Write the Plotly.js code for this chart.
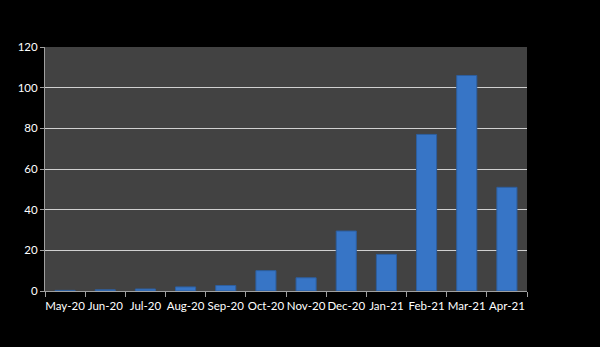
<!DOCTYPE html>
<html><head><meta charset="utf-8">
<script src="https://cdn.plot.ly/plotly-3.0.1.min.js"></script>
<style>body{margin:0;background:#000}</style>
</head><body><div id="c" style="width:600px;height:347px"></div>
<script>
const months = ["May-20","Jun-20","Jul-20","Aug-20","Sep-20","Oct-20","Nov-20","Dec-20","Jan-21","Feb-21","Mar-21","Apr-21"];
const counts = [0.3,0.6,1,2,2.7,10,6.5,29.5,18,77,106,51];
const yTicks = [0,20,40,60,80,100,120];

Plotly.newPlot("c", [{
  type: "bar",
  x: months,
  y: counts,
  marker: {color: "#3775c6", line: {color: "#2d5e9e", width: 1}},
  hoverinfo: "x+y"
}], {
  width: 600, height: 347,
  paper_bgcolor: "#000000",
  plot_bgcolor: "#424242",
  margin: {l: 45, r: 73, t: 47, b: 56},
  bargap: 0.5,
  showlegend: false,
  font: {family: "Lato, sans-serif", size: 11.5, color: "#ffffff"},
  xaxis: {
    type: "category",
    showline: true, linecolor: "#a0a0a0", linewidth: 1,
    ticks: "outside", tickson: "boundaries", ticklen: 5, tickcolor: "#a0a0a0",
    tickangle: 0, ticklabelstandoff: 4,
    tickfont: {size: 11.5, color: "#ffffff"},
    showgrid: false, zeroline: false
  },
  yaxis: {
    range: [0, 120],
    tickvals: yTicks,
    showline: true, linecolor: "#a0a0a0", linewidth: 1,
    ticks: "outside", ticklen: 4, tickcolor: "#a0a0a0",
    tickfont: {size: 11.5, color: "#ffffff"},
    showgrid: true, gridcolor: "#d0d0d0", gridwidth: 1,
    zeroline: false
  }
}, {displayModeBar: false, staticPlot: true});
</script></body></html>
